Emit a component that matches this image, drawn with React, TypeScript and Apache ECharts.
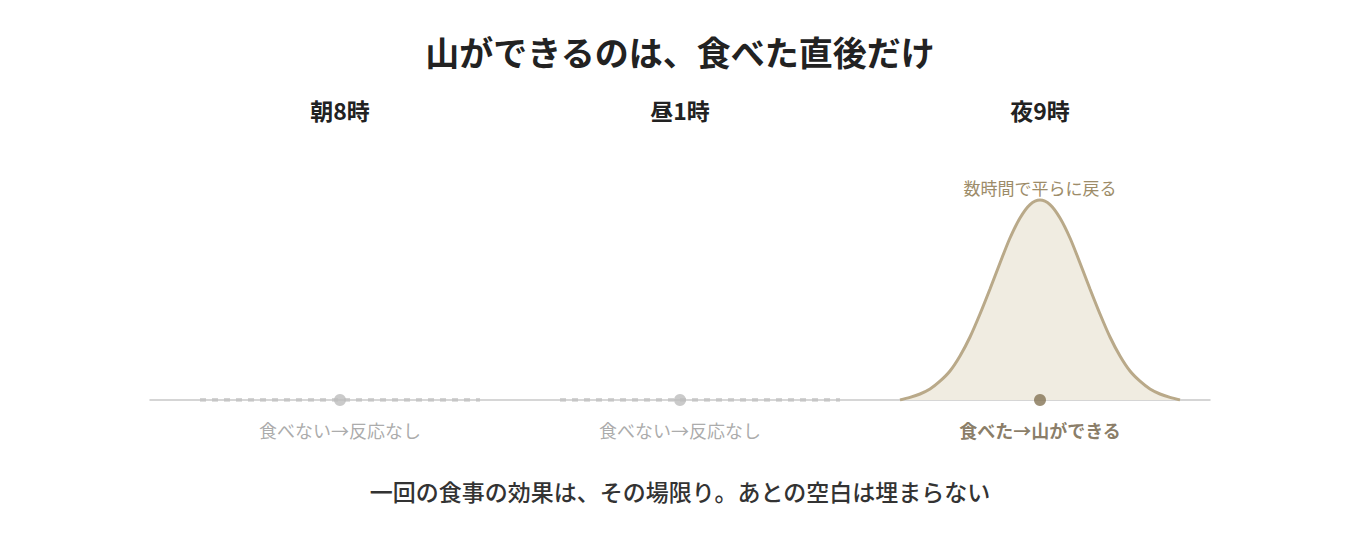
import React, { useEffect, useRef } from 'react';
import * as echarts from 'echarts';

// positions along the strip (axis units, 0..106)
const panelTitles = ['朝8時', '昼1時', '夜9時'];
const mealPos = [19, 53, 89];
const outcomeLabels = ['食べない→反応なし', '食べない→反応なし', '食べた→山ができる'];
const flatRanges: [number, number][] = [
  [5, 33],
  [41, 69],
];

// the single "mountain" after the evening meal
const curveX = [
  75, 76, 77, 78, 79, 80, 81, 82, 83, 84, 85, 86, 87, 88, 89,
  90, 91, 92, 93, 94, 95, 96, 97, 98, 99, 100, 101, 102, 103,
];
const curveY = [
  0, 1.3, 3, 5.5, 9.4, 14.5, 22, 31.5, 43, 55.5, 68.5, 81, 91, 97.7, 100,
  97.7, 91, 81, 68.5, 55.5, 43, 31.5, 22, 14.5, 9.4, 5.5, 3, 1.3, 0,
];
const peakNote = '数時間で平らに戻る';

const chartTitle = '山ができるのは、食べた直後だけ';
const footerText = '一回の食事の効果は、その場限り。あとの空白は埋まらない';

const FONT = '"Noto Sans CJK JP", "Noto Sans", sans-serif';

const App: React.FC = () => {
  const chartRef = useRef<HTMLDivElement>(null);

  useEffect(() => {
    if (!chartRef.current) return;
    const chart = echarts.init(chartRef.current, null, { renderer: 'svg' });

    const peakY = Math.max(...curveY);
    const peakX = curveX[curveY.indexOf(peakY)];

    const option: echarts.EChartsOption = {
      animation: false,
      backgroundColor: '#ffffff',
      textStyle: { fontFamily: FONT },
      grid: { left: 150, right: 150, top: 180, bottom: 160 },
      xAxis: {
        type: 'value',
        min: 0,
        max: 106,
        axisLine: { show: true, lineStyle: { color: '#c8c8c8', width: 1.5 } },
        axisTick: { show: false },
        axisLabel: { show: false },
        splitLine: { show: false },
      },
      yAxis: {
        type: 'value',
        min: 0,
        max: 110,
        axisLine: { show: false },
        axisTick: { show: false },
        axisLabel: { show: false },
        splitLine: { show: false },
      },
      series: [
        ...flatRanges.map((r, i) => ({
          name: 'flat' + i,
          type: 'line' as const,
          data: [
            [r[0], 0],
            [r[1], 0],
          ],
          symbol: 'none',
          lineStyle: { color: '#c6c6c6', width: 3.5, type: [6, 6] as number[] },
          z: 3,
        })),
        {
          name: 'mountain',
          type: 'line',
          data: curveX.map((x, i) => [x, curveY[i]]),
          smooth: 0.3,
          symbol: 'none',
          lineStyle: { color: '#b9a989', width: 3 },
          areaStyle: { color: '#f0ece1', opacity: 1 },
          z: 3,
          markPoint: {
            symbol: 'circle',
            symbolSize: 0,
            data: [
              {
                coord: [peakX, peakY],
                label: {
                  show: true,
                  position: 'top',
                  distance: 4,
                  formatter: peakNote,
                  color: '#9d8c69',
                  fontSize: 17,
                  fontFamily: FONT,
                },
              },
            ],
          },
        },
        {
          name: 'meals',
          type: 'scatter',
          data: mealPos.map((x, i) => ({
            value: [x, 0],
            itemStyle: { color: i === 2 ? '#857455' : '#bdbdbd' },
            label: {
              show: true,
              position: 'bottom',
              distance: 15,
              formatter: outcomeLabels[i],
              fontSize: 18,
              fontFamily: FONT,
              fontWeight: i === 2 ? 'bold' : 'normal',
              color: i === 2 ? '#6b5b40' : '#969696',
            },
          })),
          symbol: 'circle',
          symbolSize: 12,
          z: 5,
        },
      ],
    };
    chart.setOption(option);

    const headers = mealPos.map((x, i) => {
      const [px] = chart.convertToPixel({ gridIndex: 0 }, [x, 0]) as number[];
      return {
        type: 'text' as const,
        x: px,
        y: 110,
        style: {
          text: panelTitles[i],
          fontSize: 23,
          fontWeight: 'bold' as const,
          fontFamily: FONT,
          fill: '#222222',
          textAlign: 'center' as const,
          textVerticalAlign: 'middle' as const,
        },
      };
    });

    chart.setOption({
      graphic: [
        {
          type: 'text',
          x: 680,
          y: 51,
          style: {
            text: chartTitle,
            fontSize: 34,
            fontWeight: 'bold',
            fontFamily: FONT,
            fill: '#222222',
            textAlign: 'center',
            textVerticalAlign: 'middle',
          },
        },
        ...headers,
        {
          type: 'text',
          x: 680,
          y: 491,
          style: {
            text: footerText,
            fontSize: 23,
            fontWeight: 500,
            fontFamily: FONT,
            fill: '#333333',
            textAlign: 'center',
            textVerticalAlign: 'middle',
          },
        },
      ],
    });

    return () => {
      chart.dispose();
    };
  }, []);

  return (
    <div
      ref={chartRef}
      style={{ position: 'fixed', left: 0, top: 0, width: '1360px', height: '560px' }}
    />
  );
};

export default App;
